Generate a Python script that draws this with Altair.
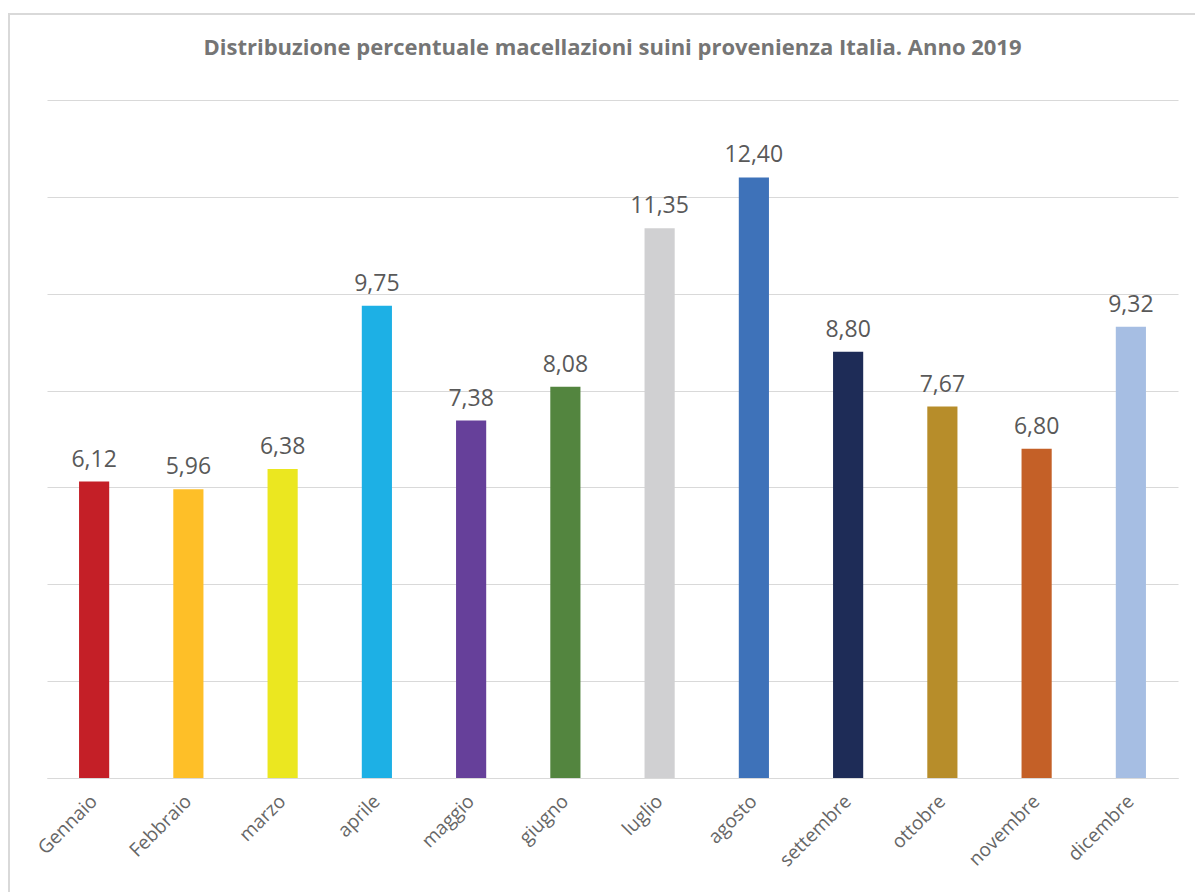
import altair as alt
import pandas as pd

months = ["Gennaio", "Febbraio", "marzo", "aprile", "maggio", "giugno",
          "luglio", "agosto", "settembre", "ottobre", "novembre", "dicembre"]
values = [6.12, 5.96, 6.38, 9.75, 7.38, 8.08, 11.35, 12.40, 8.80, 7.67, 6.80, 9.32]
colors = ["#C41F27", "#FEBF28", "#EBE720", "#1DB0E5", "#66409A", "#53853F",
          "#D0D0D2", "#3E72B9", "#1E2C57", "#B78D2A", "#C46027", "#A6BEE3"]

df = pd.DataFrame({
    "mese": months,
    "valore": values,
    "etichetta": [f"{v:.2f}".replace(".", ",") for v in values],
    "colore": colors,
})

FONT = "Open Sans"
GREY = "#595959"

x = alt.X("mese:N", sort=months, title=None,
          scale=alt.Scale(paddingInner=0.68, paddingOuter=0.34),
          axis=alt.Axis(labelAngle=-45, labelFontSize=19, labelColor="#666666",
                        labelFont=FONT, ticks=False, domainColor="#d9d9d9",
                        labelPadding=20, labelAlign="right", labelBaseline="middle"))
y = alt.Y("valore:Q", title=None, scale=alt.Scale(domain=[0, 14], nice=False),
          axis=alt.Axis(values=[0, 2, 4, 6, 8, 10, 12, 14], labels=False, ticks=False,
                        domain=False, gridColor="#d9d9d9", gridWidth=1))

bars = alt.Chart(df).mark_bar().encode(
    x=x, y=y, color=alt.Color("colore:N", scale=None))

text = alt.Chart(df).mark_text(dy=-15, fontSize=23, font=FONT, color=GREY,
                               baseline="alphabetic").encode(
    x=alt.X("mese:N", sort=months), y="valore:Q", text="etichetta:N")

border = alt.Chart(df).mark_rect(fill=None, stroke="#d9d9d9", strokeWidth=1.5).encode(
    x=alt.value(-38), x2=alt.value(1160), y=alt.value(-86), y2=alt.value(800))

chart = alt.layer(border, bars, text).properties(
    width=1131, height=678,
    background="white",
    title=alt.TitleParams("Distribuzione percentuale macellazioni suini provenienza Italia. Anno 2019",
                          font=FONT, fontSize=22, fontWeight="bold", color="#757575",
                          anchor="middle", offset=-47),
    autosize=alt.AutoSizeParams(type="none"),
    padding={"left": 47, "top": 100, "right": 17, "bottom": 114},
).configure_view(stroke=None)

chart.save("out.html", embed_options={"renderer": "svg", "actions": False})
